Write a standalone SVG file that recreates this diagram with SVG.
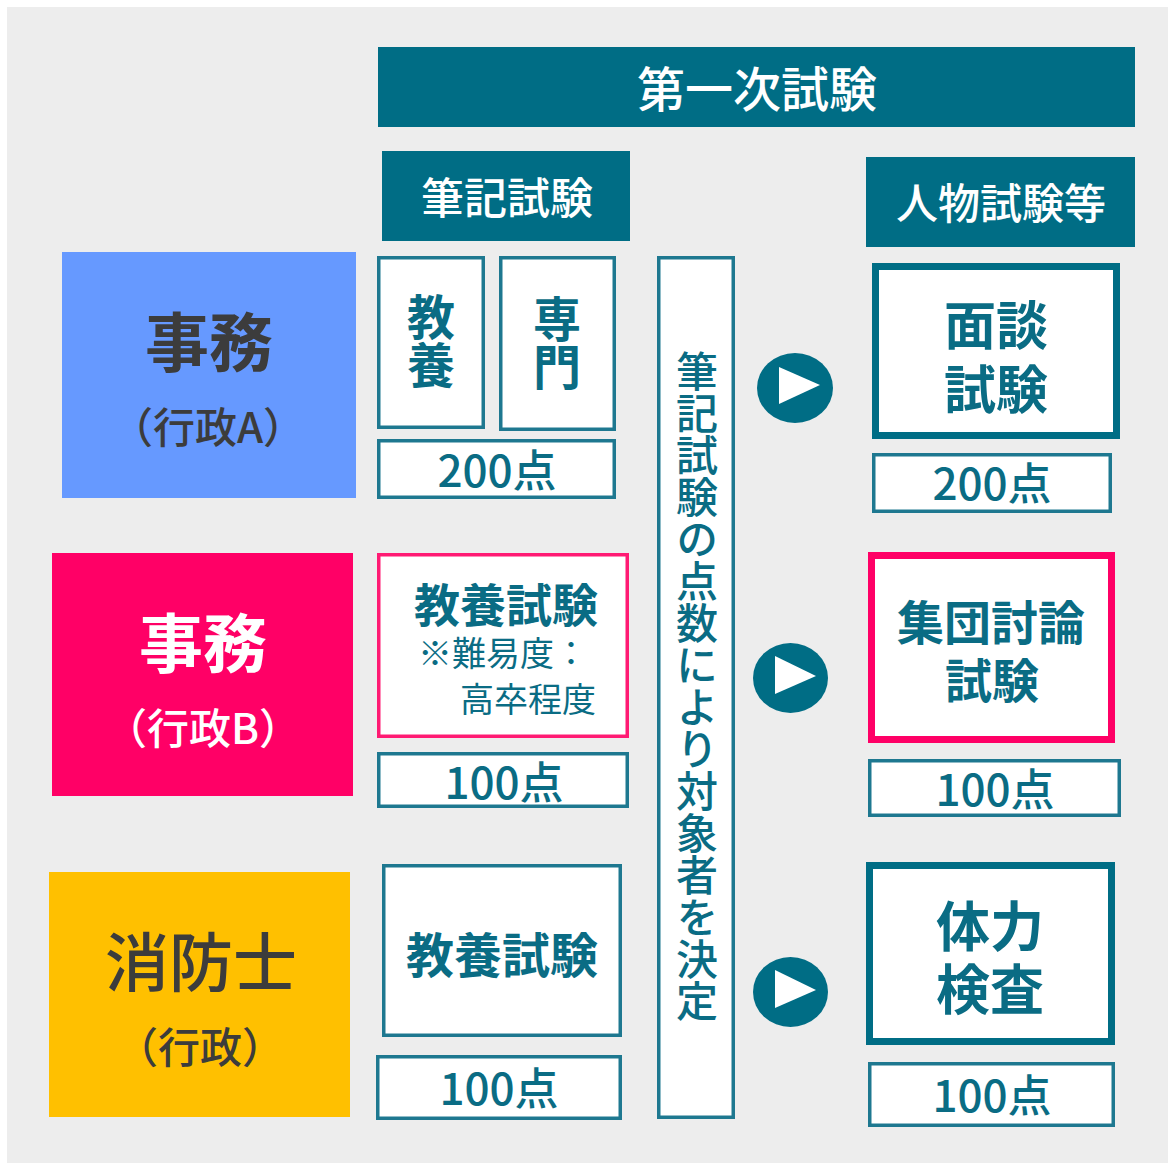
<svg xmlns="http://www.w3.org/2000/svg" width="1168" height="1163" viewBox="0 0 1168 1163">
<style>
text{font-family:"Noto Sans CJK JP","Noto Sans",sans-serif;dominant-baseline:central;text-anchor:middle}
.hdr{fill:#006d85}
.ht{fill:#ffffff;font-weight:500}
.thin{fill:#ffffff;stroke:#1e7890;stroke-width:3.5}
.thick{fill:#ffffff;stroke:#006d85;stroke-width:7}
.pthin{fill:#ffffff;stroke:#ff1a73;stroke-width:3.5}
.pthick{fill:#ffffff;stroke:#ff0066;stroke-width:7}
.tt{fill:#0a6c84}
.b{font-weight:700}
.dark{fill:#3c3c3c;font-weight:700}
.vert{writing-mode:vertical-rl}
.circ{fill:#006d85}
.tri{fill:#ffffff}
</style>
<rect x="0" y="0" width="1168" height="1163" fill="#ffffff"/>
<rect x="7" y="7" width="1161" height="1156" fill="#ededed"/>

<g id="header-first">
<rect class="hdr" x="378" y="47" width="757" height="80"/>
<text class="ht" x="757" y="86" font-size="48">第一次試験</text>
</g>
<g id="header-written">
<rect class="hdr" x="382" y="151" width="248" height="90"/>
<text class="ht" x="507" y="195" font-size="43">筆記試験</text>
</g>
<g id="header-person">
<rect class="hdr" x="866" y="157" width="269" height="90"/>
<text class="ht" x="1001" y="200" font-size="42">人物試験等</text>
</g>

<g id="job-a">
<rect x="62" y="252" width="294" height="246" fill="#6699ff"/>
<text class="dark" x="209" y="338" font-size="64">事務</text>
<text class="dark" x="208" y="424" font-size="42" style="font-weight:500">（行政A）</text>
</g>
<g id="job-b">
<rect x="52" y="553" width="301" height="243" fill="#ff0066"/>
<text x="203" y="639" font-size="64" fill="#ffffff" font-weight="700">事務</text>
<text x="203" y="725" font-size="42" fill="#ffffff" font-weight="500">（行政B）</text>
</g>
<g id="job-fire">
<rect x="49" y="872" width="301" height="245" fill="#ffc000"/>
<text class="dark" x="201" y="958" font-size="64" style="font-weight:500">消防士</text>
<text class="dark" x="200" y="1044" font-size="42" style="font-weight:500">（行政）</text>
</g>

<g id="kyoyo">
<rect class="thin" x="378.75" y="257.75" width="104.5" height="169.5"/>
<text class="tt b vert" x="431" y="341" font-size="48">教養</text>
</g>
<g id="senmon">
<rect class="thin" x="500.75" y="257.75" width="113.5" height="171.5"/>
<text class="tt b vert" x="557" y="343" font-size="48">専門</text>
</g>
<g id="score-a">
<rect class="thin" x="378.75" y="440.75" width="235.5" height="56.5"/>
<text class="tt" x="497" y="468" font-size="44" font-weight="500">200点</text>
</g>

<g id="kyoyo-b">
<rect class="pthin" x="378.75" y="554.75" width="248.5" height="181.5"/>
<text class="tt"><tspan x="506" y="602" font-size="46" font-weight="700">教養試験</tspan><tspan x="418" y="651" font-size="34" style="text-anchor:start">※難易度：</tspan><tspan x="596" y="697" font-size="34" style="text-anchor:end">高卒程度</tspan></text>
</g>
<g id="score-b">
<rect class="thin" x="378.75" y="753.75" width="248.5" height="52.5"/>
<text class="tt" x="504" y="780" font-size="44" font-weight="500">100点</text>
</g>

<g id="kyoyo-fire">
<rect class="thin" x="383.75" y="865.75" width="236.5" height="169.5"/>
<text class="tt b" x="502" y="952" font-size="48">教養試験</text>
</g>
<g id="score-fire">
<rect class="thin" x="377.75" y="1056.75" width="242.5" height="61.5"/>
<text class="tt" x="499" y="1086" font-size="44" font-weight="500">100点</text>
</g>

<g id="decide">
<rect class="thin" x="658.75" y="257.75" width="74.5" height="859.5"/>
<text class="tt vert" x="697" y="686.5" font-size="42" font-weight="500">筆記試験の点数により対象者を決定</text>
</g>

<g id="interview">
<rect class="thick" x="875.5" y="266.5" width="241" height="169"/>
<text class="tt b" font-size="52"><tspan x="996" y="322">面談</tspan><tspan x="996" y="386">試験</tspan></text>
</g>
<g id="score-interview">
<rect class="thin" x="873.75" y="454.75" width="236.5" height="56.5"/>
<text class="tt" x="992" y="481" font-size="44" font-weight="500">200点</text>
</g>

<g id="group-discussion">
<rect class="pthick" x="871.5" y="555.5" width="240" height="184"/>
<text class="tt b" font-size="47"><tspan x="991" y="619">集団討論</tspan><tspan x="992" y="677">試験</tspan></text>
</g>
<g id="score-discussion">
<rect class="thin" x="869.75" y="760.75" width="249.5" height="54.5"/>
<text class="tt" x="995" y="787" font-size="44" font-weight="500">100点</text>
</g>

<g id="physical">
<rect class="thick" x="869.5" y="865.5" width="242" height="176"/>
<text class="tt b" font-size="54"><tspan x="990" y="923">体力</tspan><tspan x="990" y="986">検査</tspan></text>
</g>
<g id="score-physical">
<rect class="thin" x="869.75" y="1063.75" width="243.5" height="61.5"/>
<text class="tt" x="992" y="1093" font-size="44" font-weight="500">100点</text>
</g>

<g id="connectors">
<g id="arrow-1">
<ellipse class="circ" cx="795" cy="388" rx="38" ry="35"/>
<polygon class="tri" points="779,367 779,404 820,385"/>
</g>
<g id="arrow-2">
<ellipse class="circ" cx="790.5" cy="678" rx="37.5" ry="35"/>
<polygon class="tri" points="775,656 775,694 816,676"/>
</g>
<g id="arrow-3">
<ellipse class="circ" cx="790.5" cy="992" rx="37.5" ry="35"/>
<polygon class="tri" points="775,970 775,1008 816,990"/>
</g>
</g>
</svg>
